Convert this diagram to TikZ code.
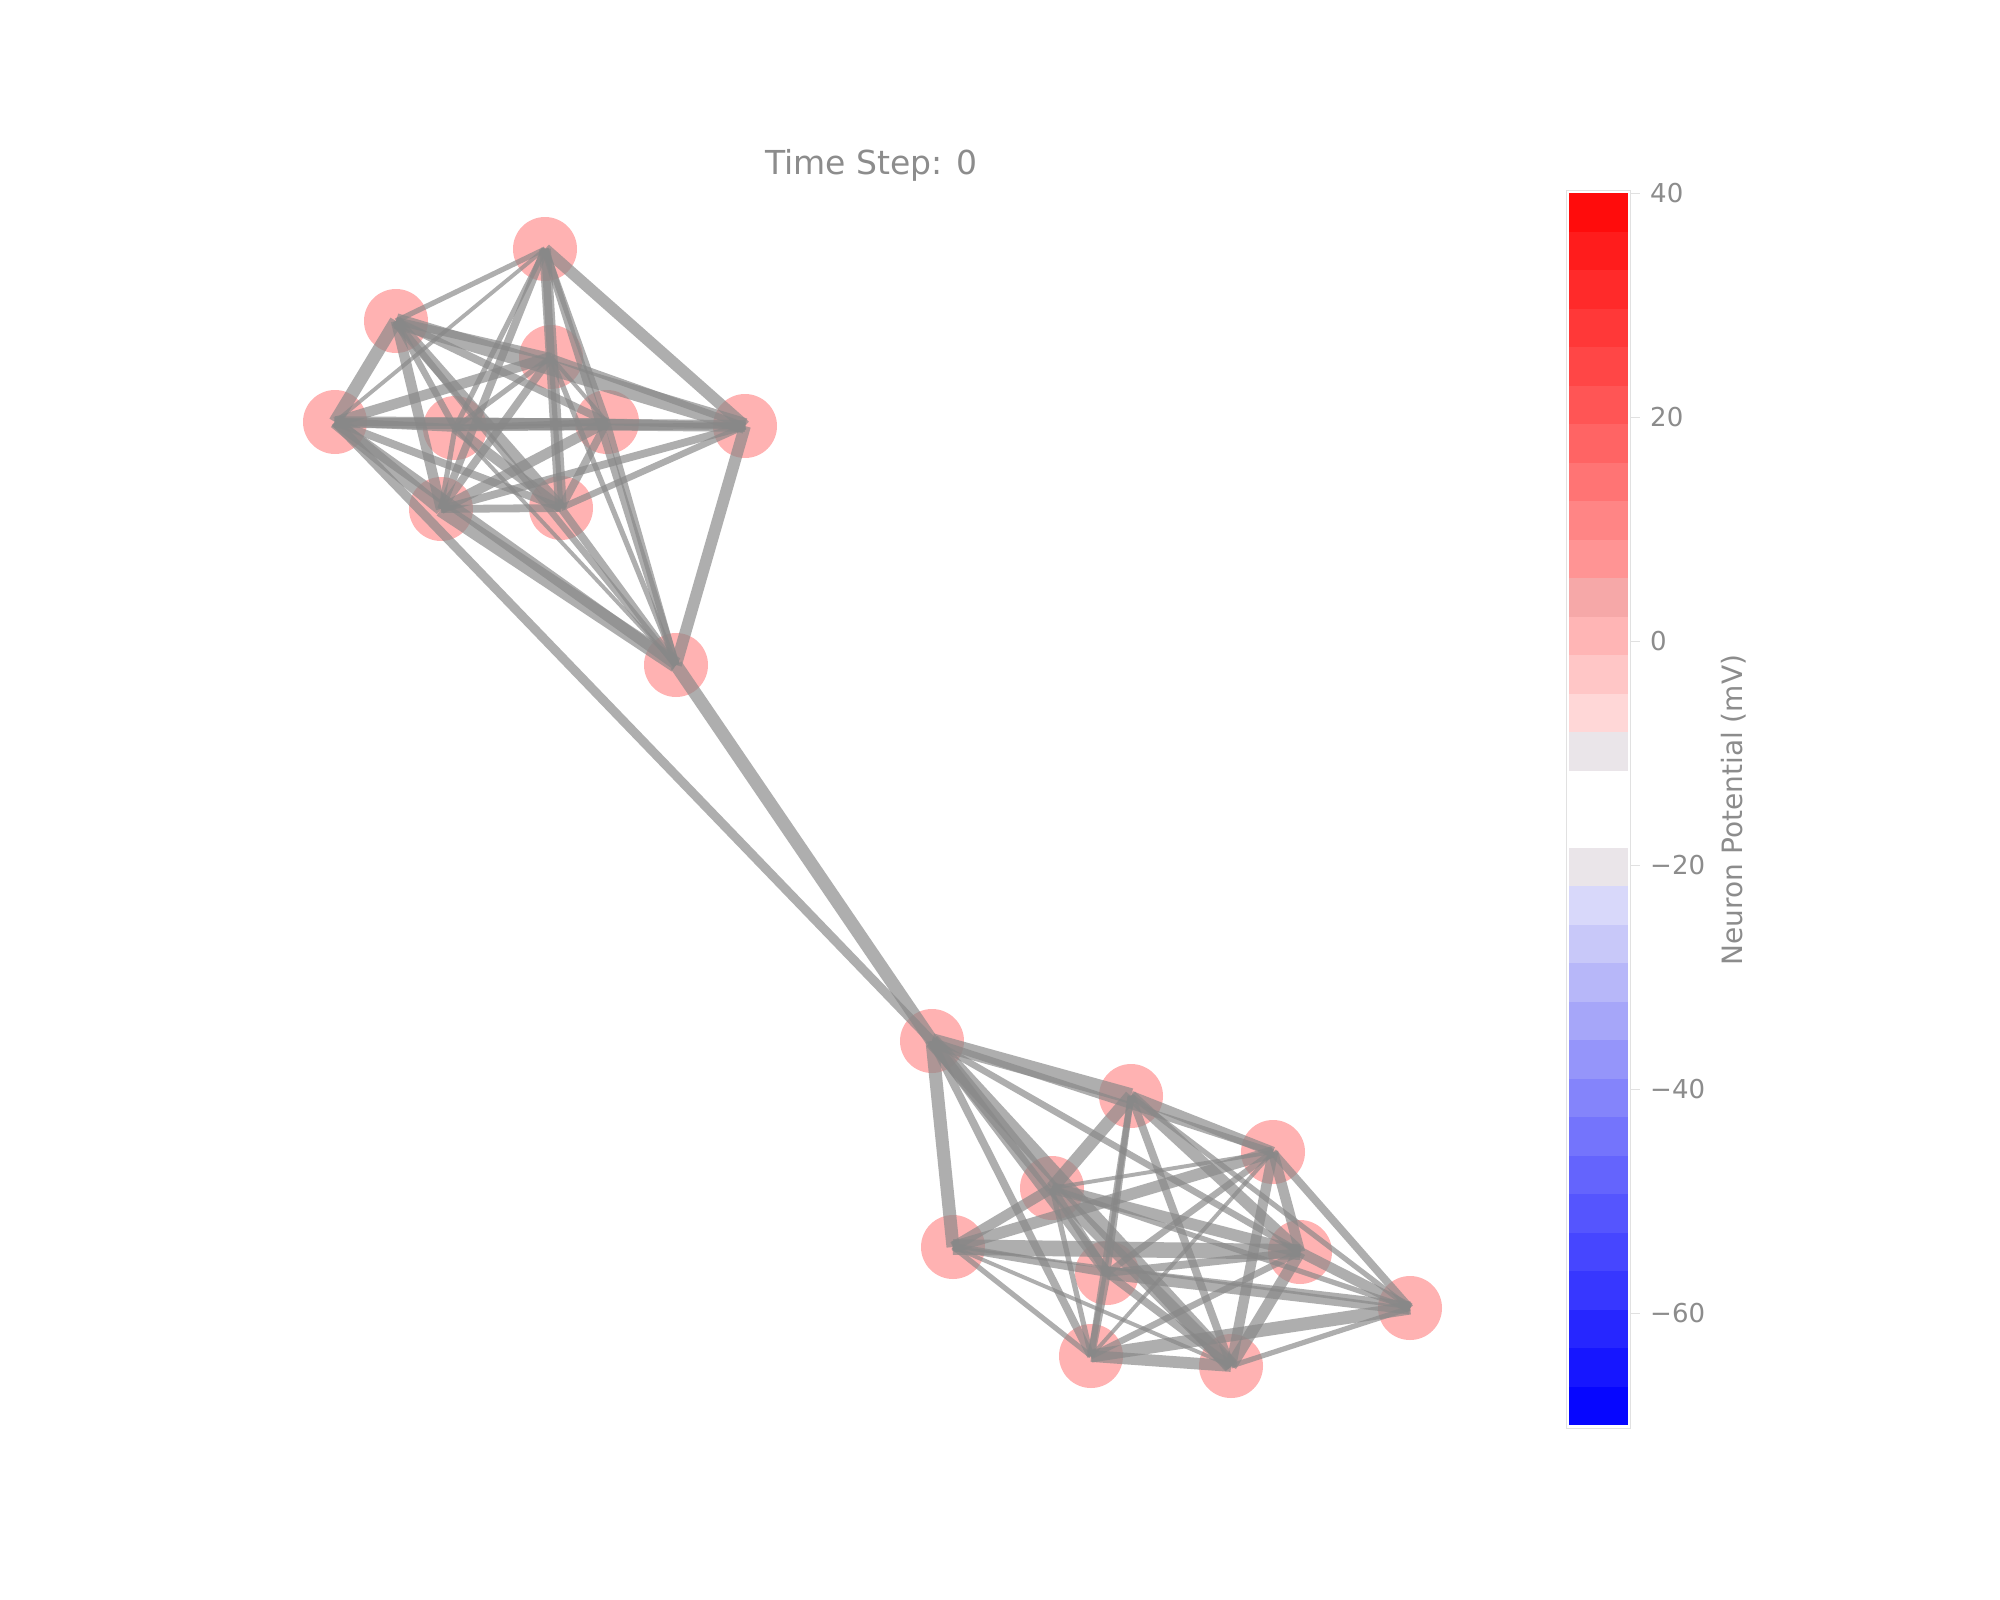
\documentclass[tikz,border=0pt]{standalone}
\usepackage{fontspec}
\setmainfont{DejaVu Sans}
\definecolor{edgegray}{RGB}{136,136,136}
\definecolor{txtgray}{RGB}{140,140,140}
\definecolor{barframe}{RGB}{225,225,225}
\begin{document}
\begin{tikzpicture}[x=1pt,y=-1pt,
  neuron/.style={circle,minimum size=64pt,inner sep=0pt,draw=none,fill=red,fill opacity=0.3},
  edge/.style={draw=edgegray,draw opacity=0.68},
  ticklab/.style={anchor=west,text=txtgray,font=\fontsize{26}{30}\selectfont,inner sep=0pt},
  tickmark/.style={draw=barframe,line width=1pt}]
\useasboundingbox (0,0) rectangle (2000,1600);
\fill[white] (0,0) rectangle (2000,1600);
% ---- neurons, upper community
\node[neuron] (A) at (545,249) {};
\node[neuron] (B) at (396,321) {};
\node[neuron] (C) at (551,357) {};
\node[neuron] (D) at (335,422) {};
\node[neuron] (E) at (455,428) {};
\node[neuron] (F) at (607,422) {};
\node[neuron] (G) at (745,426) {};
\node[neuron] (H) at (441,509) {};
\node[neuron] (I) at (561,508) {};
\node[neuron] (J) at (676,665) {};
% ---- neurons, lower community
\node[neuron] (K) at (932,1041) {};
\node[neuron] (L) at (1131,1096) {};
\node[neuron] (M) at (1273,1152) {};
\node[neuron] (N) at (1052,1188) {};
\node[neuron] (O) at (953,1247) {};
\node[neuron] (P) at (1300,1252) {};
\node[neuron] (Q) at (1107,1273) {};
\node[neuron] (R) at (1410,1308) {};
\node[neuron] (S) at (1091,1356) {};
\node[neuron] (T) at (1231,1366) {};
% ---- synapses
\foreach \a/\b/\w in {
  A/B/4, A/C/6, A/D/3, A/E/4, A/F/5, A/G/9, A/H/6, A/I/9, A/J/6,
  B/C/6, B/D/10, B/E/5, B/F/6, B/G/12, B/H/8, B/I/9, B/J/5,
  C/D/8, C/E/4, C/F/3, C/G/5, C/H/6, C/I/4, C/J/4,
  D/E/6, D/F/6, D/G/9, D/H/10, D/I/6, D/J/8,
  E/F/5, E/G/5, E/H/4, E/I/8, E/J/3,
  F/G/5, F/H/8, F/I/6, F/J/5,
  G/H/6, G/I/5, G/J/9,
  H/I/6, H/J/12, I/J/6,
  D/K/7, J/K/10,
  K/L/12, K/M/5, K/N/10, K/O/10, K/P/5, K/Q/8, K/S/6, K/T/12,
  L/M/8, L/N/10, L/P/9, L/Q/5, L/R/4, L/S/5, L/T/6,
  M/N/3, M/O/9, M/P/8, M/Q/5, M/R/6, M/S/3, M/T/8,
  N/O/8, N/P/9, N/Q/6, N/T/10, N/S/4, N/R/4,
  O/P/12, O/Q/6, O/R/2, O/S/4, O/T/3,
  P/Q/6, P/R/8, P/S/5, P/T/9,
  Q/R/10, Q/S/6, Q/T/6,
  R/S/10, R/T/4, S/T/9}
  { \draw[edge,line width=1.3*\w pt] (\a.center) -- (\b.center); }
% ---- title
\node[anchor=base west,text=txtgray,font=\fontsize{33}{40}\selectfont,inner sep=0pt] (title) at (765,175) {Time Step: 0};
% ---- colour bar
\draw[barframe,line width=1pt] (1566.5,190.5) rectangle (1630.5,1428);
\foreach \i/\r/\g/\b in {
  0/255/12/12, 1/255/28/28, 2/255/42/42, 3/255/56/56, 4/255/70/70, 5/255/85/85,
  6/255/100/100, 7/255/116/116, 8/255/133/133, 9/255/148/148, 10/246/168/168,
  11/255/181/181, 12/255/198/198, 13/255/215/215, 14/234/229/233, 15/255/255/255,
  16/255/255/255, 17/234/229/233, 18/216/216/250, 19/200/200/249, 20/183/183/249,
  21/166/166/249, 22/149/149/250, 23/132/132/251, 24/116/116/252, 25/100/100/253,
  26/85/85/254, 27/70/70/255, 28/55/55/255, 29/38/38/255, 30/22/22/255, 31/6/6/255}
  { \definecolor{bandc}{RGB}{\r,\g,\b}
    \fill[bandc] (1569,{193+\i*38.5}) rectangle (1628,{193+(\i+1)*38.5}); }
\foreach \v/\y in {40/193, 20/417, 0/641, −20/865, −40/1089, −60/1313}
  { \draw[tickmark] (1630.5,\y) -- (1640,\y);
    \node[ticklab] at (1650,\y) {\v}; }
\node[rotate=90,anchor=base,text=txtgray,font=\fontsize{28}{32}\selectfont,inner sep=0pt] (cbtitle) at (1742,810) {Neuron Potential (mV)};
\end{tikzpicture}
\end{document}
